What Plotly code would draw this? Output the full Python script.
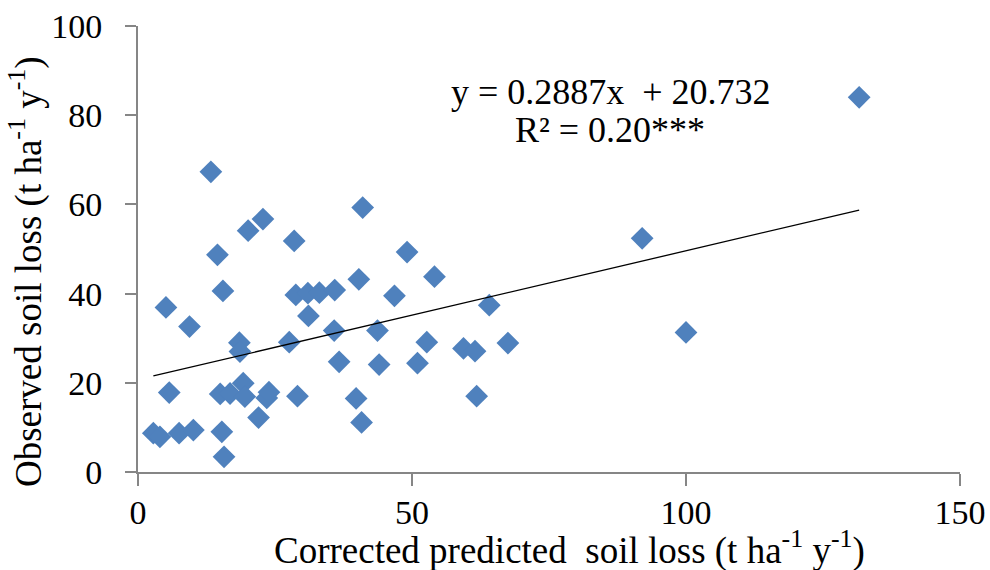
import plotly.graph_objects as go

# Corrected predicted soil loss (t ha-1 y-1)
pred = [131.6, 13.3, 22.8, 20.1, 28.5, 14.5, 41.0, 49.1, 54.1, 40.3,
        28.8, 31.0, 33.1, 35.9, 46.8, 31.1, 64.1, 35.8, 43.7, 27.6,
        52.7, 59.4, 61.5, 67.5, 36.7, 44.0, 51.0, 29.1, 39.8, 61.8,
        22.0, 40.8, 15.5, 5.1, 9.4, 18.5, 18.6, 5.7, 15.0, 16.8,
        19.2, 19.5, 23.5, 23.9, 2.8, 4.0, 7.5, 10.1, 15.3, 15.7,
        92.0, 100.0]
# Observed soil loss (t ha-1 y-1)
obs = [84.0, 67.3, 56.7, 54.1, 51.8, 48.7, 59.3, 49.3, 43.8, 43.2,
       39.7, 40.1, 40.2, 40.8, 39.5, 35.0, 37.4, 31.7, 31.7, 29.1,
       29.1, 27.7, 27.1, 28.9, 24.7, 24.1, 24.4, 17.0, 16.5, 17.0,
       12.2, 11.1, 40.6, 36.9, 32.6, 29.0, 27.0, 17.8, 17.5, 17.6,
       19.9, 16.9, 16.6, 17.9, 8.7, 7.9, 8.7, 9.4, 9.0, 3.4,
       52.4, 31.3]

slope = 0.2887
intercept = 20.732
x_ticks = [0, 50, 100, 150]
y_ticks = [0, 20, 40, 60, 80, 100]

FONT = "Liberation Serif, Times New Roman, serif"
AXIS_COLOR = "#868686"

x_fit = [min(pred), max(pred)]
y_fit = [slope * v + intercept for v in x_fit]

fig = go.Figure()
fig.add_trace(go.Scatter(
    x=pred, y=obs, mode="markers",
    marker=dict(symbol="diamond", size=17.5, color="#4F81BD",
                line=dict(width=0)),
    showlegend=False, cliponaxis=False,
))
fig.add_trace(go.Scatter(
    x=x_fit, y=y_fit, mode="lines",
    line=dict(color="black", width=1.3),
    showlegend=False,
))

fig.add_annotation(
    x=86.3, y=85.2, xref="x", yref="y",
    text="y = 0.2887x  + 20.732",
    showarrow=False, xanchor="center", yanchor="middle",
    font=dict(family=FONT, size=36, color="black"),
)
fig.add_annotation(
    x=86.1, y=76.7, xref="x", yref="y",
    text="R² = 0.20***",
    showarrow=False, xanchor="center", yanchor="middle",
    font=dict(family=FONT, size=36, color="black"),
)

# axis titles placed as annotations (paper coords)
fig.add_annotation(
    x=(569 - 138) / 822, y=-(548 - 472) / 446, xref="paper", yref="paper",
    text="Corrected predicted  soil loss (t ha<sup>-1</sup> y<sup>-1</sup>)",
    showarrow=False, xanchor="center", yanchor="middle",
    font=dict(family=FONT, size=37, color="black"),
)
fig.add_annotation(
    x=-(138 - 26) / 822, y=(472 - 272) / 446, xref="paper", yref="paper",
    text="Observed soil loss (t ha<sup>-1</sup> y<sup>-1</sup>)",
    textangle=-90,
    showarrow=False, xanchor="center", yanchor="middle",
    font=dict(family=FONT, size=37, color="black"),
)

fig.update_layout(
    width=990, height=570,
    margin=dict(l=138, r=30, t=26, b=98, autoexpand=False),
    paper_bgcolor="white", plot_bgcolor="white",
    font=dict(family=FONT, size=34, color="black"),
    xaxis=dict(
        range=[0, 150], tickvals=x_ticks, ticktext=[str(v) for v in x_ticks],
        showgrid=False, zeroline=False, automargin=False,
        showline=True, linecolor=AXIS_COLOR, linewidth=2,
        ticks="outside", tickcolor=AXIS_COLOR, ticklen=12, tickwidth=1.5,
        tickfont=dict(family=FONT, size=34),
        ticklabelstandoff=-3,
    ),
    yaxis=dict(
        range=[0, 100], tickvals=y_ticks, ticktext=[str(v) for v in y_ticks],
        showgrid=False, zeroline=False, automargin=False,
        showline=True, linecolor=AXIS_COLOR, linewidth=2,
        ticks="outside", tickcolor=AXIS_COLOR, ticklen=11, tickwidth=1.5,
        tickfont=dict(family=FONT, size=34),
        ticklabelstandoff=16,
    ),
)

fig.write_html("out.html")
